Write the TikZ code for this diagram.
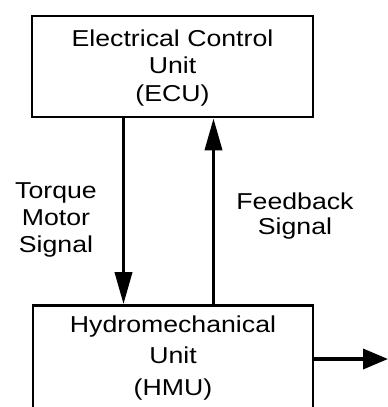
\documentclass[tikz,border=0pt]{standalone}
\usepackage{fontspec}
\setmainfont{Liberation Sans}[FakeStretch=1.16]
\usetikzlibrary{arrows.meta}
\begin{document}
\begin{tikzpicture}[x=1pt,y=-1pt,
  unitbox/.style={draw, line width=2.6pt, rectangle, inner sep=0pt},
  lbl/.style={inner sep=0pt, align=center},
  sig/.style={line width=3.6pt, -{Triangle[length=32pt,width=17pt]}},
  outsig/.style={line width=3.6pt, -{Triangle[length=25pt,width=20pt]}}]
\useasboundingbox (0,0) rectangle (388,407);
% ECU
\node[unitbox, minimum width=281pt, minimum height=101pt] (ecu) at (172.5,66.5) {};
\node[lbl, anchor=north, font=\fontsize{23}{27.5}\selectfont] (ecutext) at (172.5,29.2)
  {Electrical Control\\Unit\\(ECU)};
% HMU (runs past the bottom edge)
\node[unitbox, minimum width=280pt, minimum height=124.5pt] (hmu) at (173,367.75) {};
\node[lbl, anchor=north, font=\fontsize{23}{31.5}\selectfont] (hmutext) at (173,315.2)
  {Hydromechanical\\Unit\\(HMU)};
% labels
\node[lbl, anchor=north, font=\fontsize{23}{27}\selectfont] (tms) at (56,182)
  {Torque\\Motor\\Signal};
\node[lbl, anchor=north, font=\fontsize{23}{25}\selectfont] (fbs) at (295,192.3)
  {Feedback\\Signal};
% connectors
\coordinate (dx) at (123.5,0);
\coordinate (ux) at (213.5,0);
\coordinate (outend) at (388,359);
\draw[sig] (ecu.south -| dx) -- (hmu.north -| dx);
\draw[sig] (hmu.north -| ux) -- (ecu.south -| ux);
\draw[outsig] (hmu.east |- outend) -- (outend);
\end{tikzpicture}
\end{document}
